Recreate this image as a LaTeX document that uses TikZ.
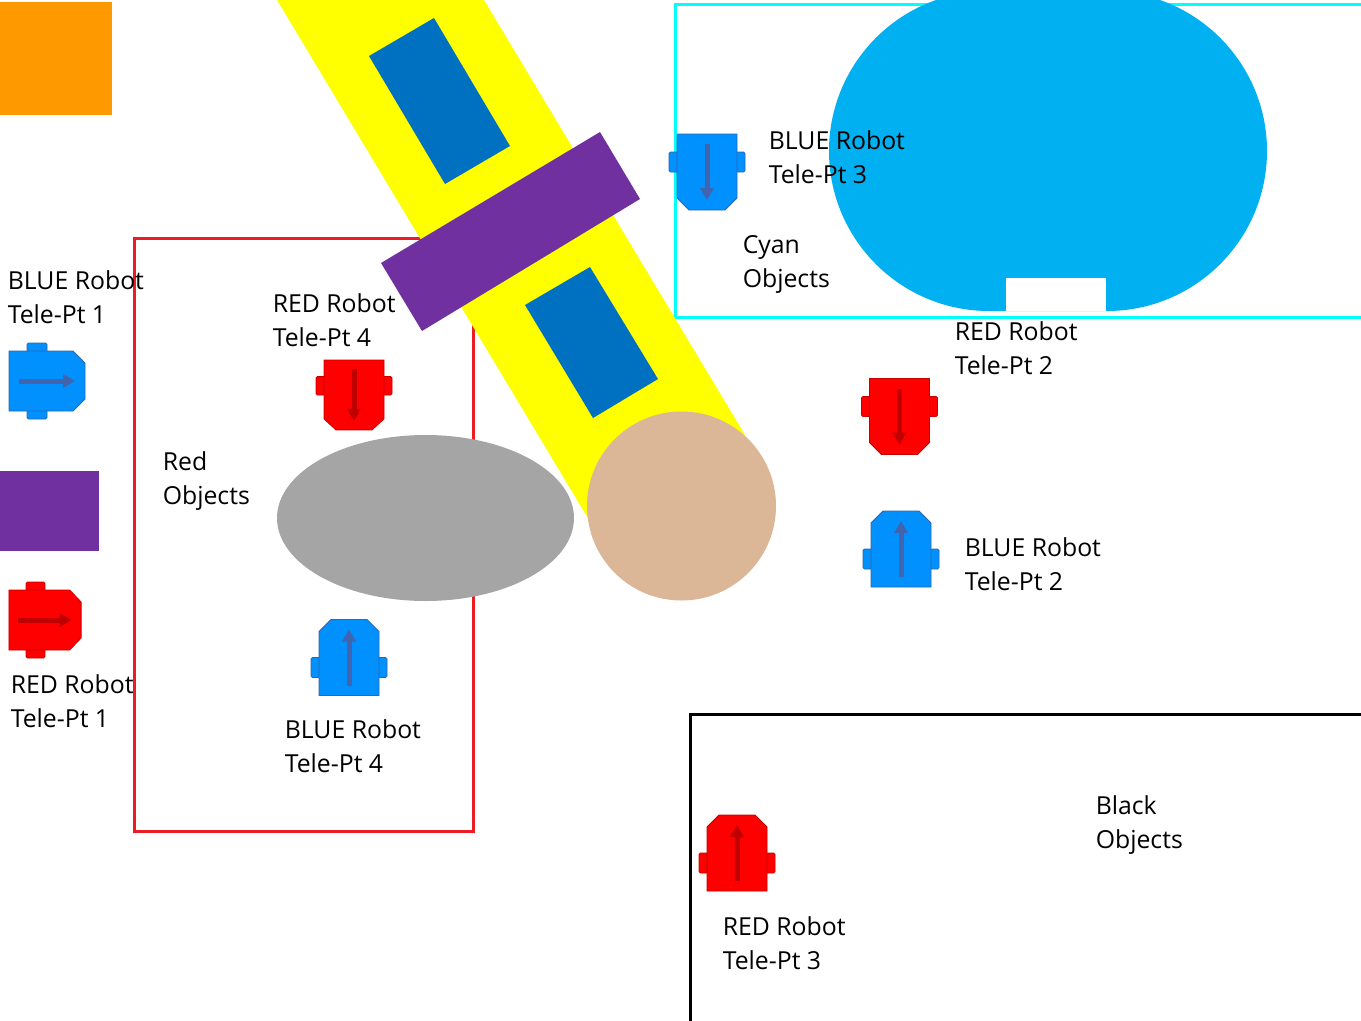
\documentclass[tikz,border=0pt]{standalone}
\usepackage{fontspec}
\setmainfont{Open Sans}
\usetikzlibrary{arrows.meta}
\definecolor{bluefill}{HTML}{0091FF}
\definecolor{blueedge}{HTML}{2F66B0}
\definecolor{bluearrow}{HTML}{4263AE}
\definecolor{redfill}{HTML}{FF0000}
\definecolor{rededge}{HTML}{C80000}
\definecolor{redarrow}{HTML}{C00000}
\definecolor{framecyan}{HTML}{00FFFF}
\definecolor{framered}{HTML}{ED1C24}
\definecolor{armyellow}{HTML}{FFFF00}
\definecolor{armblue}{HTML}{0070C0}
\definecolor{barpurple}{HTML}{7030A0}
\definecolor{ballgray}{HTML}{A5A5A5}
\definecolor{balltan}{HTML}{DBB797}
\definecolor{boxorange}{HTML}{FF9900}
\definecolor{padblue}{HTML}{00B0F0}
\begin{document}
\begin{tikzpicture}[
	x=0.75pt,y=-0.75pt,
	lbl/.style={anchor=west,inner sep=0,align=left,text=black,font=\fontsize{18.6}{25.5}\selectfont},
	frame/.style={line width=2.25pt},
	pics/robot/.style={code={
		\draw[#1edge,fill=#1fill,line width=.6pt,rounded corners=1pt] (-38,0) rectangle (38,20);
		\draw[#1edge,fill=#1fill,line width=.6pt] (-30,38) -- (-30,-26) -- (-18,-38) -- (18,-38) -- (30,-26) -- (30,38) -- cycle;
		\draw[#1arrow,line width=3.75pt,-{Triangle[length=9pt,width=10pt]}] (0,28) -- (0,-28);
	}},
]
\useasboundingbox (0,0) rectangle (1361,1021);
% frames
\draw[frame,framecyan] (1375,4) -| (675,317) -- (1375,317);
\draw[frame,black] (1375,714.5) -| (690,1035);
\draw[frame,framered] (134,238) rectangle (473.5,831);
% arm
\fill[armyellow] (277,0) -- (484,0) -- (745,435) -- (681,506) -- (589,520) -- cycle;
\fill[armblue] (434,18) -- (510,146) -- (445,184) -- (369,56) -- cycle;
\fill[armblue] (590,267) -- (658,379) -- (593,418) -- (525,305) -- cycle;
\fill[barpurple] (600,132) -- (640,199) -- (422,331) -- (381,263) -- cycle;
\fill[ballgray] (425.5,518) ellipse [x radius=148.5,y radius=83];
\fill[balltan] (681.5,506) circle [radius=94.5];
% loose shapes
\fill[boxorange] (0,2) rectangle (112,115);
\fill[barpurple] (0,471) rectangle (99,551);
\fill[padblue,rounded corners=120pt] (829,-9) rectangle (1267,311);
\fill[white] (1006,278) rectangle (1106,311);
% robots
\pic (bluebotA) [rotate=-90] at (47,381) {robot=blue};
\pic (redbotA) [rotate=-90,yscale=.95] at (45,620) {robot=red};
\pic (redbotD) [rotate=180,yscale=.92] at (354,395) {robot=red};
\pic (bluebotD) at (349,657.5) {robot=blue};
\pic (bluebotC) [rotate=180] at (707,172) {robot=blue};
\pic (redbotB) [rotate=180] at (899.5,416.5) {robot=red};
\pic (bluebotB) at (901,549) {robot=blue};
\pic (redbotC) at (737,853) {robot=red};
% labels
\node[lbl] (bluelblA) at (7.5,297) {BLUE Robot\\Tele-Pt 1};
\node[lbl] (redlblD) at (272.5,320) {RED Robot\\Tele-Pt 4};
\node[lbl] (redobj) at (162.5,481) {Red\\Objects};
\node[lbl] (redlblA) at (10.5,701) {RED Robot\\Tele-Pt 1};
\node[lbl] (bluelblD) at (284.5,746) {BLUE Robot\\Tele-Pt 4};
\node[lbl] (bluelblC) at (768.5,157) {BLUE Robot\\Tele-Pt 3};
\node[lbl] (cyanobj) at (742.5,264) {Cyan\\Objects};
\node[lbl] (redlblB) at (954.5,348) {RED Robot\\Tele-Pt 2};
\node[lbl] (bluelblB) at (964.5,564) {BLUE Robot\\Tele-Pt 2};
\node[lbl] (redlblC) at (722.5,943) {RED Robot\\Tele-Pt 3};
\node[lbl] (blackobj) at (1095.5,825) {Black\\Objects};
\end{tikzpicture}
\end{document}
